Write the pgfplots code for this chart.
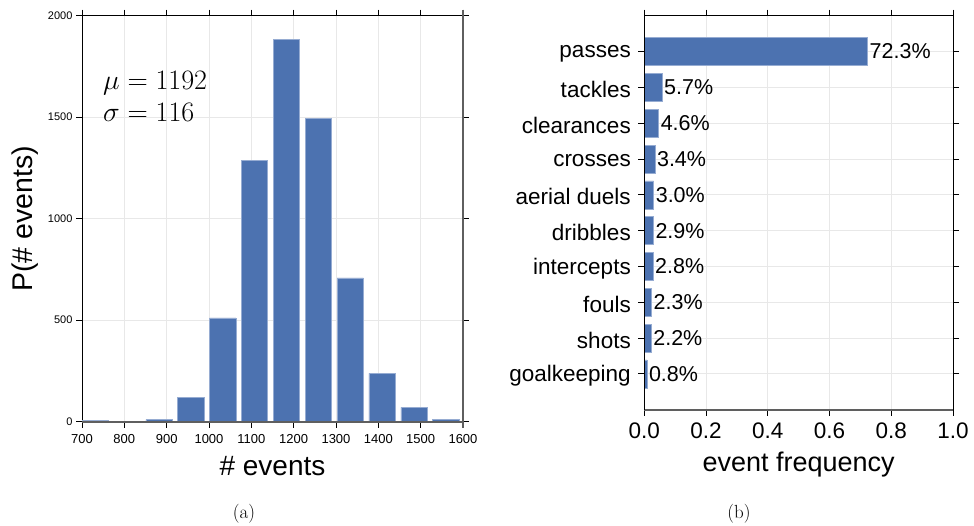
\documentclass[border=0pt]{standalone}
\usepackage{graphicx}
\usepackage{fontspec}
\usepackage{pgfplots}
\pgfplotsset{compat=1.18}
\newfontfamily\arial{Liberation Sans}
\definecolor{barblue}{RGB}{76,114,176}
\definecolor{baredge}{RGB}{150,172,210}
\definecolor{gridgray}{RGB}{232,232,232}
\definecolor{spinegray}{RGB}{95,95,95}
\pgfplotsset{/pgf/number format/assume math mode=true}

\begin{document}
\begin{tikzpicture}
\path[use as bounding box] (0,0) rectangle (974pt,-525pt);
% ---------------- (a) histogram ----------------
\begin{axis}[
  at={(82pt,-421.7pt)}, anchor=south west,
  width=381pt, height=406pt, scale only axis,
  xmin=700, xmax=1600, ymin=0, ymax=2000,
  xtick={700,800,900,1000,1100,1200,1300,1400,1500,1600},
  ytick={0,500,1000,1500,2000},
  grid=major, major grid style={gridgray, line width=0.8pt},
  tick align=outside, major tick length=6pt,
  every tick/.style={black, line width=0.8pt},
  axis line style={black, line width=0.8pt},
  /pgf/number format/1000 sep={},
  xticklabel style={font=\arial\fontsize{13}{13}\selectfont, yshift=-3pt},
  yticklabel style={font=\arial\fontsize{11}{11}\selectfont},
  xlabel={\# events}, ylabel={P(\# events)},
  every axis x label/.style={at={(axis description cs:0.5,-0.133)}, anchor=base, font=\arial\fontsize{28}{28}\selectfont},
  every axis y label/.style={at={(axis description cs:-0.150,0.5)}, rotate=90, anchor=center, font=\arial\fontsize{28.5}{28.5}\selectfont},
  ybar, bar width=62, clip=false,
]
\addplot[fill=barblue, draw=baredge, line width=0.5pt] coordinates {
 (731,8) (806.3,0) (881.6,10) (956.9,120) (1032.2,511) (1107.5,1289)
 (1182.8,1884) (1258.1,1494) (1333.4,709) (1408.7,238) (1484,71) (1559.3,12)};
\draw[spinegray, line width=1.8pt] ([yshift=-6pt]rel axis cs:1,0) -- ([yshift=6pt]rel axis cs:1,1);
\draw[spinegray, line width=1.6pt] (rel axis cs:0,0) -- (rel axis cs:1,0);
\end{axis}
\node[anchor=base west, font=\fontsize{24.88}{25}\selectfont, inner sep=0pt] at (103pt,-89.3pt) {\scalebox{1.13}{$\mu=1192$}};
\node[anchor=base west, font=\fontsize{24.88}{25}\selectfont, inner sep=0pt] at (103pt,-121.7pt) {\scalebox{1.13}{$\sigma=116$}};
% ---------------- (b) event frequency ----------------
\begin{axis}[
  at={(644.3pt,-409.7pt)}, anchor=south west,
  width=308.7pt, height=394pt, scale only axis,
  xmin=0, xmax=1, ymin=-1, ymax=10,
  xtick={0,0.2,0.4,0.6,0.8,1},
  ytick={0,1,2,3,4,5,6,7,8,9},
  yticklabels={goalkeeping,shots,fouls,intercepts,dribbles,aerial duels,crosses,clearances,tackles,passes},
  grid=major, major grid style={gridgray, line width=0.8pt},
  tick align=outside, major tick length=6pt,
  every tick/.style={black, line width=0.8pt},
  axis line style={black, line width=0.8pt},
  xticklabel style={font=\arial\fontsize{22.5}{22.5}\selectfont, yshift=-4pt,
    /pgf/number format/fixed, /pgf/number format/fixed zerofill, /pgf/number format/precision=1},
  yticklabel style={font=\arial\fontsize{22.5}{22.5}\selectfont, yshift=-2pt, xshift=-4pt},
  xlabel={event frequency},
  every axis x label/.style={at={(axis description cs:0.5,-0.157)}, anchor=base, font=\arial\fontsize{27}{27}\selectfont},
  xbar, bar width=0.78, clip=false,
  point meta=explicit,
  nodes near coords={\pgfmathprintnumber[fixed,fixed zerofill,precision=1]{\pgfplotspointmeta}\%},
  nodes near coords style={font=\arial\fontsize{21.5}{21.5}\selectfont, anchor=west, inner sep=2pt, black},
]
\addplot[fill=barblue, draw=baredge, line width=0.5pt] coordinates {
 (0.723,9) [72.3] (0.057,8) [5.7] (0.046,7) [4.6] (0.034,6) [3.4] (0.030,5) [3.0]
 (0.029,4) [2.9] (0.028,3) [2.8] (0.023,2) [2.3] (0.022,1) [2.2] (0.008,0) [0.8]};
\draw[spinegray, line width=1.6pt] (rel axis cs:0,0) -- (rel axis cs:1,0);
\draw[black, line width=1.2pt] (rel axis cs:0,0) -- (rel axis cs:0,1);
\end{axis}
\node[anchor=base, font=\fontsize{19}{19}\selectfont] at (244pt,-518pt) {(a)};
\node[anchor=base, font=\fontsize{19}{19}\selectfont] at (739pt,-518pt) {(b)};
\end{tikzpicture}
\end{document}
